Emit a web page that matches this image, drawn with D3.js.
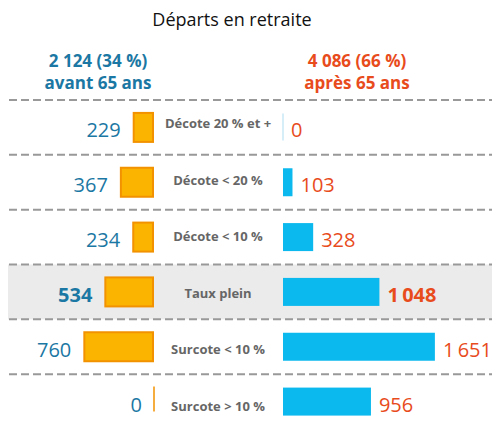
<!DOCTYPE html>
<html lang="fr">
    <head>
        <meta charset="utf-8">
        <title>Départs en retraite</title>
        <script type="text/javascript" src="https://d3js.org/d3.v7.min.js"></script>
        <style type="text/css">
            body { margin: 0; background: #fff; }
            text { font-family: "Open Sans", sans-serif; }
        </style>
    </head>
    <body>
        <script type="text/javascript">

        // Donnees
        var categories = ["Décote 20 % et +", "Décote < 20 %", "Décote < 10 %", "Taux plein", "Surcote < 10 %", "Surcote > 10 %"];
        var avant65 = [229, 367, 234, 534, 760, 0];
        var apres65 = [0, 103, 328, 1048, 1651, 956];
        var totalLabels = ["2 124 (34 %)", "4 086 (66 %)"];
        var groupLabels = ["avant 65 ans", "après 65 ans"];
        var highlight = "Taux plein";

        var w = 492;
        var h = 421;
        var blue = "#1b77a3";
        var red = "#e84b1c";

        // separateur de milliers : espace fine
        var fmt = function(v){
            return d3.format(",")(v).replace(/,/g, "\u2009");
        };

        var svg = d3.select("body")
                    .append("svg")
                    .attr("width", w)
                    .attr("height", h);

        // Echelles
        var y = d3.scaleBand()
                  .domain(categories)
                  .range([100, 429])
                  .padding(0);

        var xLeft = d3.scaleLinear().domain([0, 1000]).range([154, 154 - 93]);
        var xRight = d3.scaleLinear().domain([0, 1000]).range([283, 283 + 92]);

        // Titre
        svg.append("text")
           .attr("x", 232)
           .attr("y", 26)
           .attr("text-anchor", "middle")
           .style("font-size", "18px")
           .style("fill", "#111")
           .text("Départs en retraite");

        // En-tetes
        [98, 357].forEach(function(cx, i){
            var col = i == 0 ? blue : red;
            svg.append("text")
               .attr("x", cx).attr("y", 67)
               .attr("text-anchor", "middle")
               .style("font-size", "17px").style("font-weight", "bold")
               .style("fill", col)
               .text(totalLabels[i]);
            svg.append("text")
               .attr("x", cx).attr("y", 89)
               .attr("text-anchor", "middle")
               .style("font-size", "17px").style("font-weight", "bold")
               .style("fill", col)
               .text(groupLabels[i]);
        });

        // Bande grise
        svg.append("rect")
           .attr("x", 8)
           .attr("y", y(highlight))
           .attr("width", w - 8)
           .attr("height", y.bandwidth())
           .attr("fill", "#ebebeb");

        // Lignes pointillees
        svg.selectAll("line.sep")
           .data(categories)
           .enter()
           .append("line")
           .attr("class", "sep")
           .attr("x1", 9).attr("x2", w)
           .attr("y1", function(d){ return y(d); })
           .attr("y2", function(d){ return y(d); })
           .attr("stroke", "#999")
           .attr("stroke-width", 2)
           .attr("stroke-dasharray", "8,4");

        var rows = svg.selectAll("g.row")
                      .data(categories)
                      .enter()
                      .append("g")
                      .attr("class", "row")
                      .attr("transform", function(d){
                          return "translate(0," + (y(d) + y.bandwidth() / 2) + ")";
                      });

        // Barres gauche (avant 65 ans)
        rows.append("rect")
            .attr("x", function(d, i){ return xLeft(avant65[i]) + 1; })
            .attr("y", -14.5)
            .attr("width", function(d, i){ return Math.max(0, xLeft(0) - xLeft(avant65[i]) - 2); })
            .attr("height", 29)
            .attr("fill", "#fbb400")
            .attr("stroke", "#f39200")
            .attr("stroke-width", function(d, i){ return avant65[i] > 0 ? 2 : 0; });

        rows.filter(function(d, i){ return avant65[i] == 0; })
            .append("line")
            .attr("x1", xLeft(0)).attr("x2", xLeft(0))
            .attr("y1", -15).attr("y2", 10)
            .attr("stroke", "#f39200")
            .attr("stroke-width", 1.5);

        // Barres droite (apres 65 ans)
        rows.append("rect")
            .attr("x", xRight(0))
            .attr("y", -14)
            .attr("width", function(d, i){ return xRight(apres65[i]) - xRight(0); })
            .attr("height", 28)
            .attr("fill", "#0cb9ee");

        rows.filter(function(d, i){ return apres65[i] == 0; })
            .append("line")
            .attr("x1", xRight(0)).attr("x2", xRight(0))
            .attr("y1", -14).attr("y2", 13)
            .attr("stroke", "#c8e8f4")
            .attr("stroke-width", 1.5);

        // Valeurs
        rows.append("text")
            .attr("x", function(d, i){ return xLeft(avant65[i]) - 12; })
            .attr("y", 10)
            .attr("text-anchor", "end")
            .style("font-size", "20px")
            .style("font-weight", function(d){ return d == highlight ? "bold" : "normal"; })
            .style("fill", blue)
            .text(function(d, i){ return fmt(avant65[i]); });

        rows.append("text")
            .attr("x", function(d, i){ return xRight(apres65[i]) + 8; })
            .attr("y", 10)
            .attr("text-anchor", "start")
            .style("font-size", "20px")
            .style("font-weight", function(d){ return d == highlight ? "bold" : "normal"; })
            .style("fill", red)
            .text(function(d, i){ return fmt(apres65[i]); });

        // Categories
        rows.append("text")
            .attr("x", 218)
            .attr("y", function(d, i){ return 1 + i * 1.6; })
            .attr("text-anchor", "middle")
            .style("font-size", "13px")
            .style("font-weight", "bold")
            .style("fill", "#666")
            .text(function(d){ return d; });

        </script>
    </body>
</html>
